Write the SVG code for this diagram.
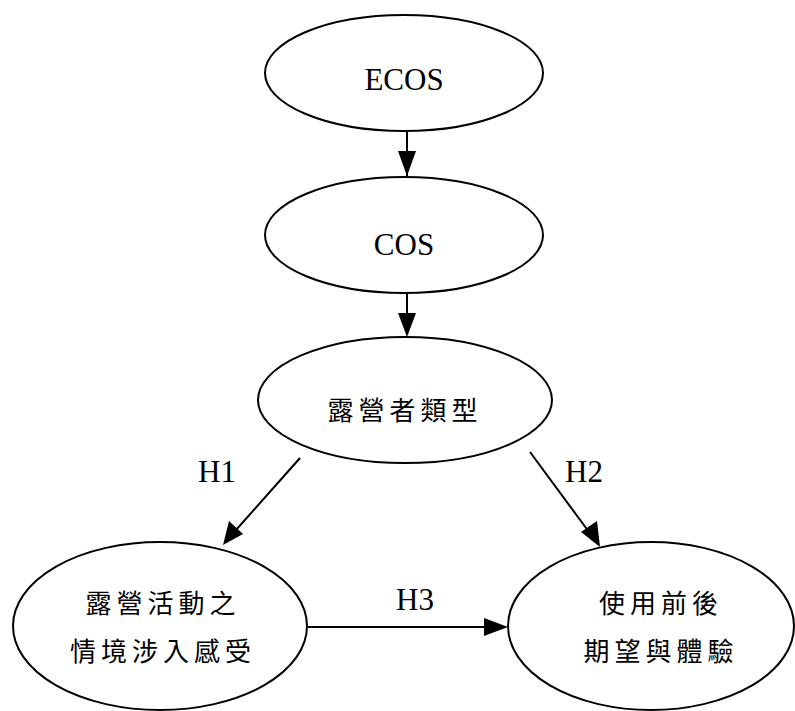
<svg xmlns="http://www.w3.org/2000/svg" width="795" height="711" viewBox="0 0 795 711">
<style>
.n{fill:#fff;stroke:#000;stroke-width:2}
.e{stroke:#000;stroke-width:2;fill:none;marker-end:url(#ah)}
.t{font-family:"Liberation Serif",serif;font-size:31px;text-anchor:middle;fill:#000}
.c{font-family:"Noto Sans CJK TC","Noto Sans CJK SC",sans-serif;font-size:26px;letter-spacing:5px;text-anchor:middle;dominant-baseline:central;fill:#000}
</style>
<defs>
<marker id="ah" viewBox="0 0 10 10" refX="10" refY="5" markerWidth="10" markerHeight="10" markerUnits="userSpaceOnUse" orient="auto"><path d="M0,0 L10,5 L0,10 z" fill="#000"/></marker>
</defs>
<rect width="795" height="711" fill="#fff"/>
<g id="connectors">
<line class="e" x1="407" y1="132" x2="407" y2="176" style="marker-end:none"/>
<path d="M398,151 L416,151 L407,176 z"/>
<line x1="407" y1="293" x2="407" y2="320" stroke="#000" stroke-width="2"/>
<path d="M398,313 L416,313 L407,337 z"/>
<line x1="300" y1="458" x2="236" y2="530" stroke="#000" stroke-width="2"/>
<path d="M223,545 L229,521 L243,534 z"/>
<line x1="530" y1="452" x2="589" y2="532" stroke="#000" stroke-width="2"/>
<path d="M600,547 L581,532 L597,521 z"/>
<line x1="308" y1="627" x2="486" y2="627" stroke="#000" stroke-width="2"/>
<path d="M508,627 L484,618 L484,636 z"/>
<text class="t" x="217" y="482">H1</text>
<text class="t" x="584" y="482">H2</text>
<text class="t" x="415" y="610">H3</text>
</g>
<g id="ecos">
<ellipse class="n" cx="404" cy="73" rx="139" ry="58"/>
<text class="t" x="404" y="90">ECOS</text>
</g>
<g id="cos">
<ellipse class="n" cx="404" cy="235" rx="139" ry="58"/>
<text class="t" x="404" y="255">COS</text>
</g>
<g id="type">
<ellipse class="n" cx="405" cy="400" rx="147" ry="63"/>
<text class="c" x="405" y="408">露營者類型</text>
</g>
<g id="involve">
<ellipse class="n" cx="160" cy="626" rx="147" ry="84"/>
<text class="c" x="163" y="601">露營活動之</text>
<text class="c" x="163" y="649">情境涉入感受</text>
</g>
<g id="expect">
<ellipse class="n" cx="651" cy="626" rx="143" ry="84"/>
<text class="c" x="661" y="601">使用前後</text>
<text class="c" x="661" y="649">期望與體驗</text>
</g>
</svg>
